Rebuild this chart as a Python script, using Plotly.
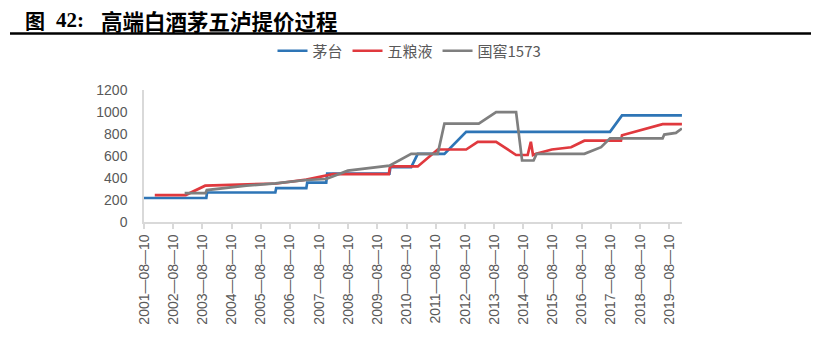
import plotly.graph_objects as go

# ---------------- data ----------------
maotai_dates = ["2001-08-10", "2003-09-29", "2003-10-08", "2006-02-09", "2006-02-20",
                "2007-03-04", "2007-03-15", "2007-11-08", "2007-11-20", "2010-01-08",
                "2010-01-20", "2010-10-07", "2010-12-28", "2011-11-27", "2012-08-25",
                "2017-07-31", "2017-12-28", "2020-01-17"]
maotai_vals = [218, 218, 268, 268, 308,
               308, 358, 358, 439, 439,
               499, 499, 619, 619, 819,
               819, 969, 969]

wly_dates = ["2001-12-23", "2003-01-14", "2003-09-15", "2006-02-21", "2007-03-04",
             "2008-01-30", "2009-12-31", "2010-01-15", "2010-12-28", "2011-09-04",
             "2012-08-25", "2013-01-17", "2013-09-04", "2014-05-12", "2014-10-04",
             "2014-11-13", "2014-12-10", "2015-01-17", "2015-08-03", "2016-03-30",
             "2016-09-13", "2017-12-15", "2017-12-28", "2019-05-20", "2020-01-17"]
wly_vals = [245, 245, 330, 350, 385,
            435, 435, 505, 505, 659,
            659, 729, 729, 609, 609,
            729, 609, 620, 659, 679,
            739, 739, 789, 889, 889]

gj_dates = ["2003-01-01", "2003-09-20", "2003-10-05", "2005-02-12", "2006-02-09",
            "2007-03-04", "2007-11-08", "2008-08-05", "2010-01-08", "2010-10-07",
            "2011-09-04", "2011-11-27", "2013-01-30", "2013-09-04", "2014-05-12",
            "2014-07-26", "2014-12-17", "2015-01-25", "2016-09-13", "2017-04-10",
            "2017-07-31", "2019-05-20", "2019-06-10", "2019-11-03", "2020-01-17"]
gj_vals = [263, 263, 290, 330, 351,
           382, 391, 467, 513, 620,
           620, 895, 895, 999, 999,
           559, 559, 620, 620, 680,
           760, 760, 795, 810, 850]

series_names = ["茅台", "五粮液", "国窖1573"]

tick_years = list(range(2001, 2020))
tick_vals = [f"{y}-08-10" for y in tick_years]
tick_text = [f"{y}—08—10" for y in tick_years]

y_ticks = [0, 200, 400, 600, 800, 1000, 1200]

# ---------------- figure ----------------
W, H = 819, 342
ML, MR, MT, MB = 144, 137, 90, 120
PW, PH = W - ML - MR, H - MT - MB


def px(x):
    return (x - ML) / PW


def py(y):
    return (H - MB - y) / PH


colors = ["#2E75B6", "#E0393E", "#7F7F7F"]

fig = go.Figure()
for name, xs, ys, c in zip(series_names,
                           [maotai_dates, wly_dates, gj_dates],
                           [maotai_vals, wly_vals, gj_vals], colors):
    fig.add_trace(go.Scatter(x=xs, y=ys, mode="lines", name=name,
                             line=dict(color=c, width=2.7)))

axis_font = dict(family="Liberation Sans, Arial, sans-serif", size=14, color="#595959")

fig.update_layout(
    width=W, height=H,
    margin=dict(l=ML, r=MR, t=MT, b=MB),
    paper_bgcolor="white", plot_bgcolor="white",
    showlegend=True,
    legend=dict(orientation="h", xref="container", yref="container",
                x=0.5, xanchor="center", y=1 - 51 / H, yanchor="middle",
                font=dict(family="Noto Sans CJK SC, sans-serif", size=15, color="#595959"),
                itemwidth=30, tracegroupgap=0, bgcolor="rgba(0,0,0,0)"),
    xaxis=dict(type="date", range=["2001-08-10", "2020-01-18"],
               tickvals=tick_vals, ticktext=tick_text, tickangle=-90,
               tickfont=axis_font, showgrid=False, zeroline=False,
               showline=True, linecolor="#D9D9D9", linewidth=1.5,
               ticks="outside", ticklen=5, tickcolor="#D9D9D9", tickwidth=1.5),
    yaxis=dict(range=[0, 1200], tickvals=y_ticks, tickfont=axis_font,
               showgrid=False, zeroline=False, showline=True,
               linecolor="#D9D9D9", linewidth=1.5, ticks="",
               ticklabelstandoff=12),
)

title_font = dict(family="Noto Sans CJK SC, sans-serif", size=20, color="black")
fig.add_annotation(xref="paper", yref="paper", x=px(23), y=py(20), xanchor="left",
                   yanchor="middle", text="<b>图</b>", showarrow=False, font=title_font)
fig.add_annotation(xref="paper", yref="paper", x=px(54), y=py(20), xanchor="left",
                   yanchor="middle", text="<b>42:</b>", showarrow=False,
                   font=dict(family="Liberation Serif, serif", size=21, color="black"))
fig.add_annotation(xref="paper", yref="paper", x=px(99), y=py(20), xanchor="left",
                   yanchor="middle", text="<b>高端白酒茅五泸提价过程</b>", showarrow=False,
                   font=dict(family="Noto Sans CJK SC, sans-serif", size=21.5, color="black"))

fig.add_shape(type="line", xref="paper", yref="paper", x0=px(10), x1=px(811),
              y0=py(33.5), y1=py(33.5), line=dict(color="black", width=2.5))

fig.write_html("out.html")
